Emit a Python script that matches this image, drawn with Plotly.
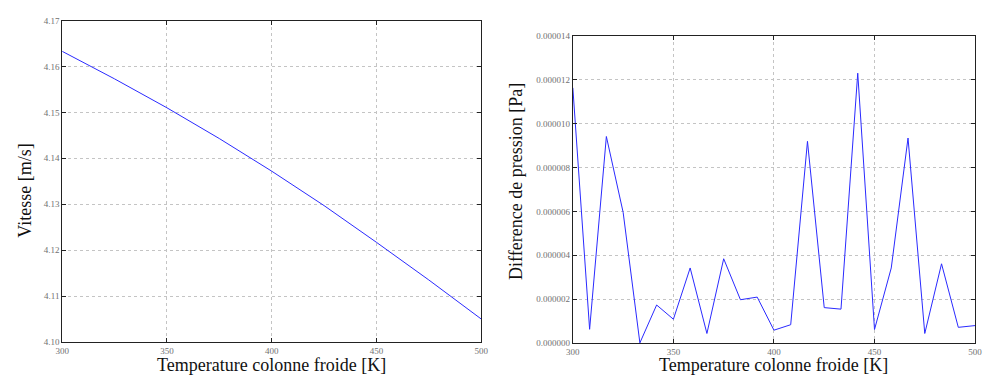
import plotly.graph_objects as go

# Left chart: velocity vs cold column temperature
temp_left = [300, 325, 350, 375, 400, 425, 450, 475, 500]
vitesse = [4.1633, 4.1573, 4.1510, 4.1443, 4.1372, 4.1297, 4.1217, 4.1135, 4.1050]

# Right chart: pressure difference vs cold column temperature (25 points)
temp_right = [300 + i * 200 / 24 for i in range(25)]
diff_pression = [11.64e-6, 0.62e-6, 9.42e-6, 5.96e-6, 0.0e-6, 1.73e-6, 1.08e-6, 3.42e-6,
                 0.43e-6, 3.84e-6, 1.97e-6, 2.09e-6, 0.58e-6, 0.83e-6, 9.2e-6, 1.61e-6,
                 1.54e-6, 12.31e-6, 0.61e-6, 3.42e-6, 9.35e-6, 0.43e-6, 3.61e-6, 0.71e-6,
                 0.79e-6]

x_ticks = [300, 350, 400, 450, 500]
y_ticks_left = [4.10, 4.11, 4.12, 4.13, 4.14, 4.15, 4.16, 4.17]
y_ticks_right = [0, 2e-6, 4e-6, 6e-6, 8e-6, 10e-6, 12e-6, 14e-6]
y_ticktext_right = ["%.6f" % v for v in y_ticks_right]

W, H = 986, 381
SERIF = "Liberation Serif"

fig = go.Figure()
fig.add_trace(go.Scatter(x=temp_left, y=vitesse, mode="lines",
                         line=dict(color="#2a2aff", width=1), xaxis="x", yaxis="y",
                         showlegend=False))
fig.add_trace(go.Scatter(x=temp_right, y=diff_pression, mode="lines",
                         line=dict(color="#2a2aff", width=1), xaxis="x2", yaxis="y2",
                         showlegend=False))

tickfont = dict(family=SERIF, size=9, color="#707070")
common = dict(showline=True, linecolor="#222222", linewidth=1, mirror="ticks",
              ticks="inside", ticklen=4, tickcolor="#222222",
              showgrid=True, gridcolor="#c4c4c4", griddash="dot", gridwidth=1,
              zeroline=False, tickfont=tickfont)

def dom_x(a, b):
    return [a / W, b / W]

def dom_y(top, bottom):
    return [1 - bottom / H, 1 - top / H]

title_font = dict(family=SERIF, size=18, color="#111111")

fig.update_layout(
    width=W, height=H,
    margin=dict(l=0, r=0, t=0, b=0),
    paper_bgcolor="white", plot_bgcolor="white",
    xaxis=dict(domain=dom_x(56, 481), range=[300, 500], tickvals=x_ticks,
               anchor="y", **common),
    yaxis=dict(domain=dom_y(16, 346), range=[4.10, 4.17], tickvals=y_ticks_left,
               ticktext=["%.2f" % v for v in y_ticks_left], anchor="x", **common),
    xaxis2=dict(domain=dom_x(574, 982), range=[300, 500], tickvals=x_ticks,
                anchor="y2", **common),
    yaxis2=dict(domain=dom_y(32, 347), range=[0, 14e-6], tickvals=y_ticks_right,
                ticktext=y_ticktext_right, anchor="x2", **common),
    annotations=[
        dict(text="Temperature colonne froide [K]", x=(56 + 481) / 2 / W, y=1 - 370 / H,
             xref="paper", yref="paper", showarrow=False, xanchor="center", yanchor="middle",
             font=title_font),
        dict(text="Temperature colonne froide [K]", x=(574 + 982) / 2 / W, y=1 - 370 / H,
             xref="paper", yref="paper", showarrow=False, xanchor="center", yanchor="middle",
             font=title_font),
        dict(text="Vitesse [m/s]", x=18 / W, y=1 - 191 / H, textangle=-90,
             xref="paper", yref="paper", showarrow=False, xanchor="center", yanchor="middle",
             font=title_font),
        dict(text="Difference de pression [Pa]", x=517 / W, y=1 - 181 / H, textangle=-90,
             xref="paper", yref="paper", showarrow=False, xanchor="center", yanchor="middle",
             font=title_font),
    ],
)

fig.write_html("out.html")
